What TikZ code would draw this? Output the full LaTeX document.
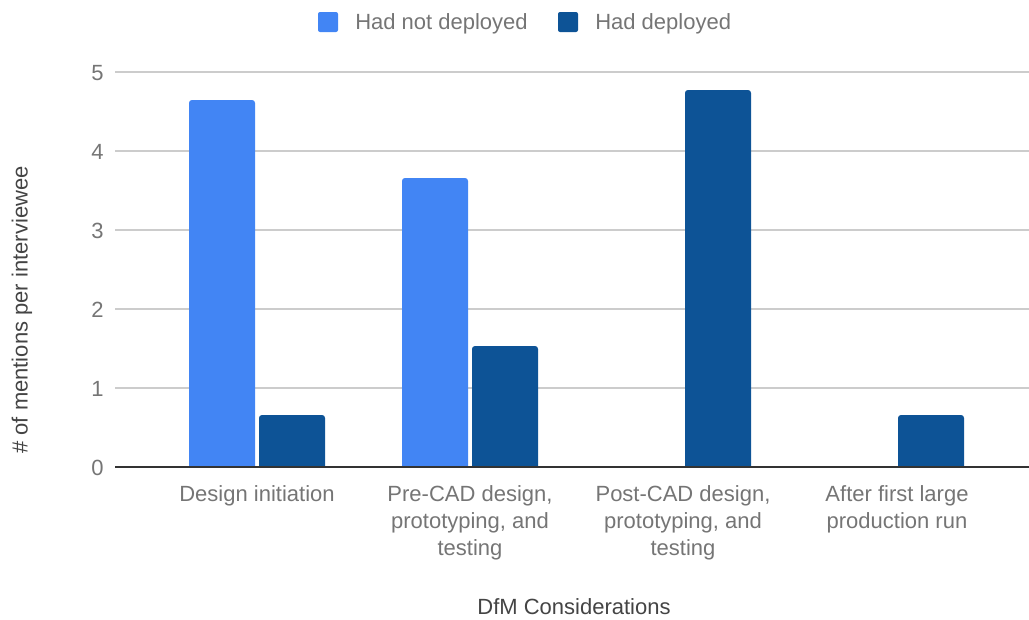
\documentclass[tikz,border=0pt]{standalone}
\usepackage{fontspec}
\setmainfont{Liberation Sans}
\definecolor{lightbar}{HTML}{4285F4}
\definecolor{darkbar}{HTML}{0D5396}
\definecolor{labelgray}{HTML}{757575}
\definecolor{titlegray}{HTML}{444444}
\definecolor{gridgray}{HTML}{CCCCCC}
\definecolor{basegray}{HTML}{333333}
\begin{document}
\begin{tikzpicture}[x=0.75pt,y=-0.75pt,
  lbl/.style={text=labelgray,font=\fontsize{16.5}{20.25}\selectfont,inner sep=0pt},
  ttl/.style={text=titlegray,font=\fontsize{16.5}{20.25}\selectfont,inner sep=0pt},
  cat/.style={lbl,align=center,anchor=north},
  grid/.style={draw=gridgray,line width=0.9pt},
  legsq/.style={rounded corners=1.5pt}]
\useasboundingbox (0,0) rectangle (1029,619);
% gridlines
\foreach \v/\y in {1/388,2/309,3/230,4/151,5/72}{
  \draw[grid] (115,\y) -- (1029,\y);
  \node[lbl,anchor=east] (tick\v) at (104,\y+1) {\v};
}
\node[lbl,anchor=east] (tick0) at (104,468) {0};
% bars
\newcommand{\drawbar}[4]{% color, x1, x2, top
  \fill[#1] (#2,467) [rounded corners=2.2pt] -- (#2,#4) -- (#3,#4) [sharp corners] -- (#3,467) -- cycle;}
\drawbar{lightbar}{189}{255}{100}
\drawbar{darkbar}{259}{325}{415}
\drawbar{lightbar}{402}{468}{178}
\drawbar{darkbar}{472}{538}{346}
\drawbar{darkbar}{685}{751}{90}
\drawbar{darkbar}{898}{964}{415}
% baseline
\draw[basegray,line width=1.3pt] (115,467) -- (1029,467);
% category labels
\node[cat] (c1) at (257,485) {Design initiation};
\node[cat] (c2) at (470,485) {Pre-CAD design,\\prototyping, and\\testing};
\node[cat] (c3) at (683,485) {Post-CAD design,\\prototyping, and\\testing};
\node[cat] (c4) at (897,485) {After first large\\production run};
% axis titles
\node[ttl] (xt) at (574,607) {DfM Considerations};
\node[ttl,rotate=90] (yt) at (22,310) {\# of mentions per interviewee};
% legend
\fill[lightbar,legsq] (318,12) rectangle (338,32);
\node[lbl,anchor=west] (l1) at (355,24) {Had not deployed};
\fill[darkbar,legsq] (558,12) rectangle (578,32);
\node[lbl,anchor=west] (l2) at (595,24) {Had deployed};
\end{tikzpicture}
\end{document}
